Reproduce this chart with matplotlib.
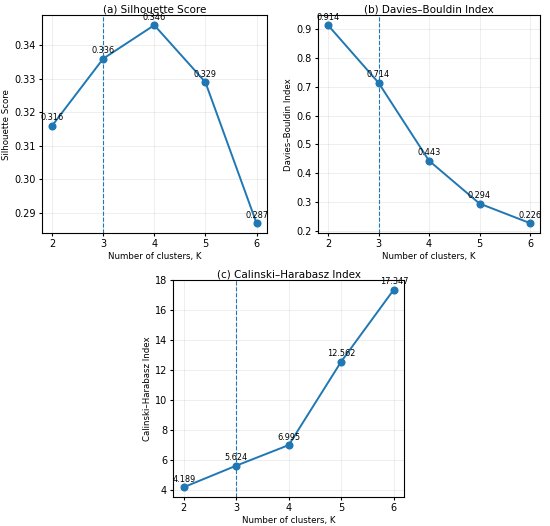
import matplotlib.pyplot as plt

# data
k_values = [2, 3, 4, 5, 6]
silhouette = [0.316, 0.336, 0.346, 0.329, 0.287]
davies_bouldin = [0.914, 0.714, 0.443, 0.294, 0.226]
calinski = [4.189, 5.624, 6.995, 12.562, 17.347]
best_k = 3

panels = [
    ('(a) Silhouette Score', 'Silhouette Score', silhouette, [0.076, 0.557, 0.409, 0.414]),
    ('(b) Davies\u2013Bouldin Index', 'Davies\u2013Bouldin Index', davies_bouldin, [0.578, 0.557, 0.404, 0.414]),
    ('(c) Calinski\u2013Harabasz Index', 'Calinski\u2013Harabasz Index', calinski, [0.315, 0.055, 0.42, 0.413]),
]

fig = plt.figure(figsize=(5.5, 5.26), dpi=100)

for title, ylabel, vals, rect in panels:
    ax = fig.add_axes(rect)
    ax.plot(k_values, vals, marker='o', color='#1f77b4', linewidth=1.4, markersize=4.8)
    ax.axvline(best_k, color='#1f77b4', linestyle='--', linewidth=0.8)
    for k, v in zip(k_values, vals):
        ax.annotate('{:.3f}'.format(v), (k, v), textcoords='offset points', xytext=(0, 4),
                    ha='center', fontsize=5.9)
    ax.set_title(title, fontsize=7.5, pad=2)
    ax.set_xlabel('Number of clusters, K', fontsize=6.2, labelpad=2)
    ax.set_ylabel(ylabel, fontsize=6.2, labelpad=2)
    ax.set_xticks(k_values)
    ax.tick_params(labelsize=7, length=2.5, pad=2)
    ax.grid(True, alpha=0.3, linewidth=0.5)

fig.savefig('out.png', dpi=100)
